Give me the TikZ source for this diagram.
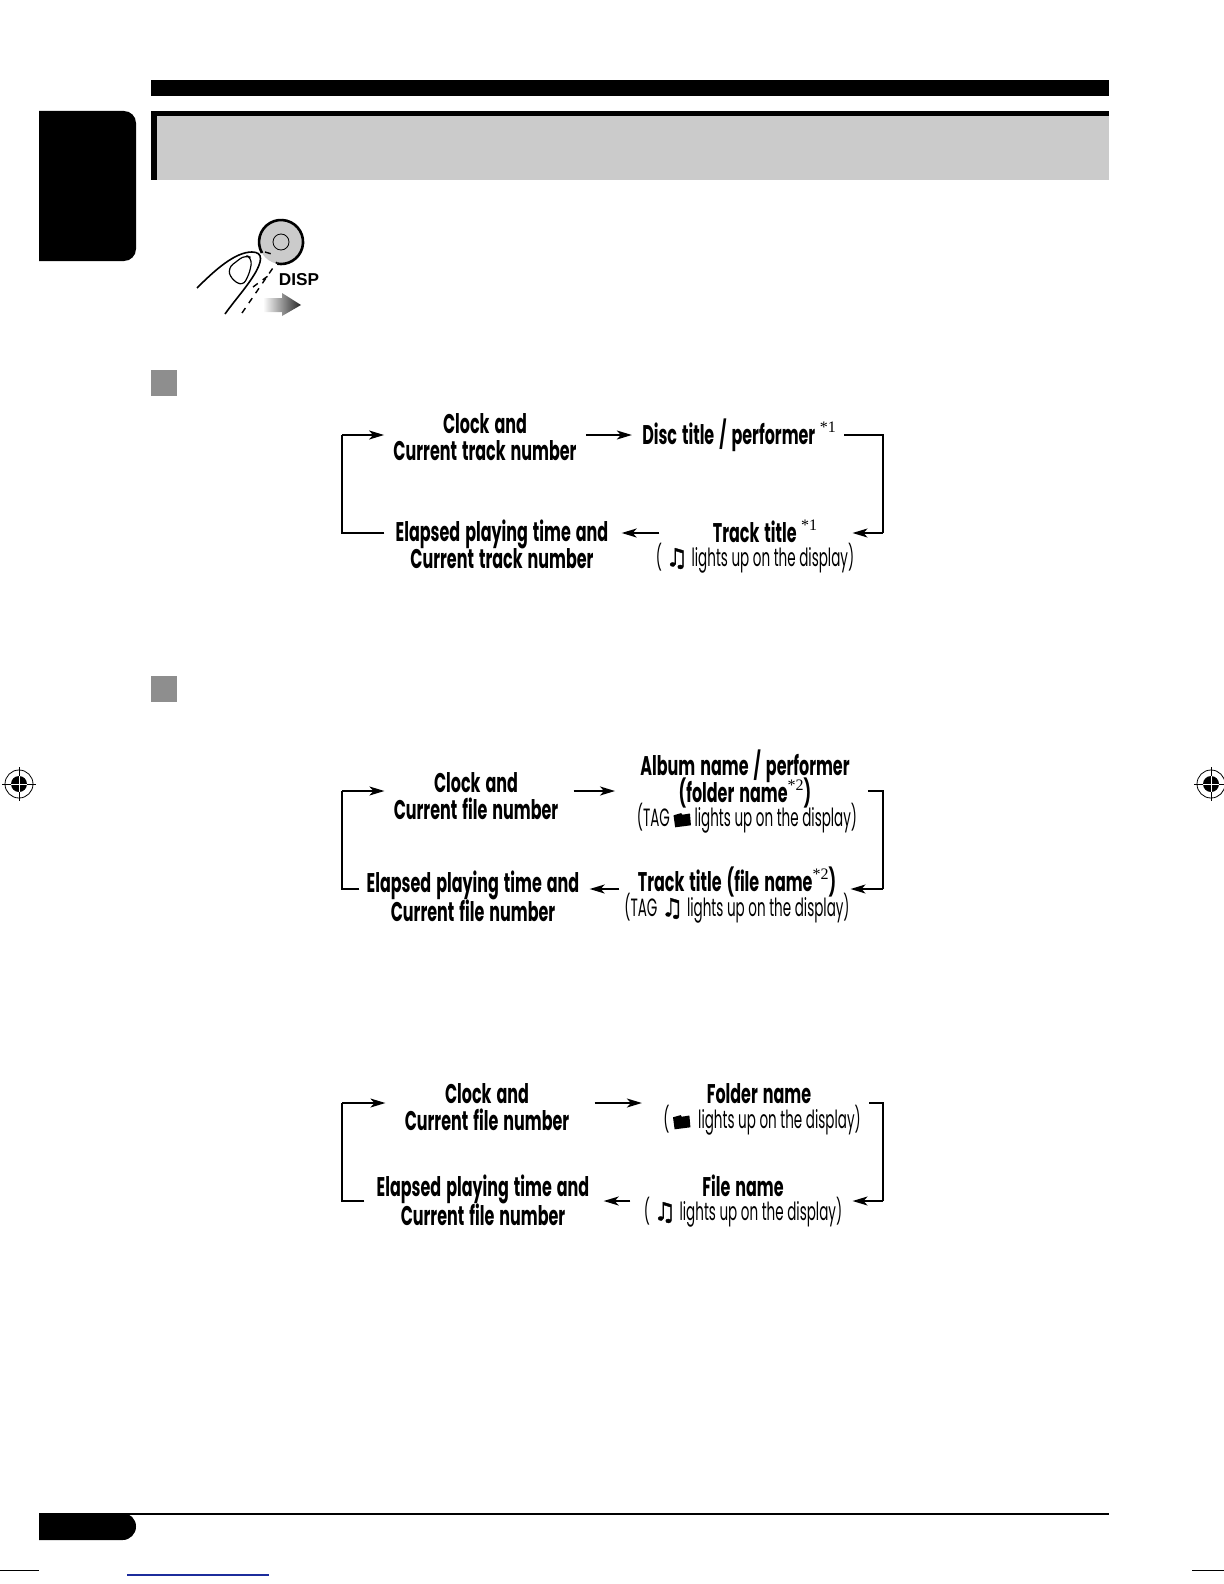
\documentclass[tikz,border=0pt]{standalone}
\usepackage{fontspec}
\usepackage{tikz}
\usetikzlibrary{arrows.meta}
\newfontfamily\labelfont[FakeStretch=0.59,WordSpace=1.5]{Poppins}
\newfontfamily\notelabelfont[FakeStretch=0.54]{Poppins}
\newfontfamily\notefont[FakeBold=1.5]{DejaVu Sans}
\newfontfamily\starfont{Liberation Serif}
\newfontfamily\dispfont{Liberation Sans}
\newcommand{\musicnote}{{\notefont\symbol{"266B}}}
\newcommand{\foldermark}{\tikz[baseline=0pt,x=1pt,y=1pt]{\fill (0,-0.5) -- (-0.8,5.5) -- (3,6.6) -- (3.6,5.8) -- (7.4,6.4) -- (7.9,0.5) -- cycle;}}
\newcommand{\starmark}[1]{\smash{\raisebox{0.45em}{\starfont\mdseries\fontsize{8}{8}\selectfont *#1}}}
\newcommand{\tightlines}{\setlength{\lineskiplimit}{-20pt}}
\definecolor{panelgray}{HTML}{CBCBCB}
\definecolor{squaregray}{HTML}{8E8E8E}
\definecolor{cropblue}{HTML}{1C2C9C}
\tikzset{
  titletext/.style={inner sep=0pt, align=center, font=\labelfont\bfseries\fontsize{13.5}{13.5}\selectfont, execute at begin node=\tightlines},
  notetext/.style={inner sep=0pt, align=center, font=\notelabelfont\fontsize{12.5}{13}\selectfont},
  flow/.style={line width=0.8pt, -{Stealth[length=7.5pt,width=4.5pt,inset=2pt]}},
  loopline/.style={line width=0.7pt},
  squaremark/.style={fill=squaregray},
}
\begin{document}
\begin{tikzpicture}[x=0.5pt,y=-0.5pt]
\useasboundingbox (0,0) rectangle (1224,1584);
% page furniture
\fill (151,80) rectangle (1109,96);
\fill[panelgray] (151,111) rectangle (1109,180);
\fill (151,111) rectangle (1109,116);
\fill (151,111) rectangle (157,180);
\fill (39,111) [rounded corners=6pt] -- (136,111) -- (136,261) [sharp corners] -- (39,261) -- cycle;
\fill[squaremark] (151,370) rectangle (177,396);
\fill[squaremark] (151,676) rectangle (177,702);
\fill (39,1513) [rounded corners=6.7pt] -- (136,1513) -- (136,1540) [sharp corners] -- (39,1540) -- cycle;
\draw[line width=1pt] (122,1514) -- (1109,1514);
\draw[line width=0.4pt] (0,1570) -- (39,1570);
\draw[line width=0.6pt, cropblue] (127,1575) -- (269,1575);
\draw[line width=0.4pt] (1192,1570) -- (1224,1570);
% registration marks
\foreach \cx in {19,1211} {
  \draw[line width=0.4pt] (\cx,784) circle[radius=14];
  \fill (\cx,784) circle[radius=8];
  \draw[line width=0.4pt] (\cx-17,784) -- (\cx+17,784);
  \draw[line width=0.4pt] (\cx,767) -- (\cx,801);
  \draw[line width=0.4pt, white] (\cx-8,784) -- (\cx+8,784);
  \draw[line width=0.4pt, white] (\cx,776) -- (\cx,792);
}
% DISP button
\fill[panelgray] (281,242) circle[radius=22];
\draw[line width=1.3pt] (262,253) arc[start angle=150,end angle=460,radius=22];
\draw[line width=0.4pt] (281,242) circle[radius=8];
\draw[line width=0.8pt] (197,288) .. controls (215,270) and (235,252) .. (252,252) .. controls (264,252) and (262,262) .. (254,275) .. controls (246,288) and (235,300) .. (225,314);
\draw[line width=0.6pt, rounded corners=3pt] (228,268) -- (245,255) -- (252,258) -- (250,272) -- (243,286) -- (231,279) -- cycle;
\draw[line width=0.7pt, dashed] (242,313) -- (277,262);
\draw[line width=0.7pt, dashed] (253,287) -- (272,273);
\draw[line width=0.7pt, dashed] (265,252) -- (275,255);
\node[inner sep=0pt, font=\dispfont\bfseries\fontsize{8.6}{8.6}\selectfont] (dispA) at (299,280) {DISP};
\shade[left color=white, right color=black!85] (263,298) -- (282,298) -- (282,293) -- (301,305) -- (282,316) -- (282,312) -- (263,312) -- cycle;
% CD diagram
\node[titletext] (clockA) at (485,437) {Clock and\\Current track number};
\node[titletext] (discA) at (739,435) {Disc title / performer\,\starmark{1}};
\node[titletext] (trackA) at (765,532) {Track title\,\starmark{1}};
\node[notetext] (trackNoteA) at (755,558) {( \musicnote\ lights up on the display)};
\node[titletext] (elapsedA) at (502,544) {Elapsed playing time and\\Current track number};
\coordinate (rightTopA) at (883,435);
\coordinate (rightBotA) at (883,533);
\coordinate (leftBotA) at (342,533);
\coordinate (leftTopA) at (342,435);
\draw[flow, shorten <=4.5pt, shorten >=5pt] (clockA.east |- discA.west) -- (discA.west);
\draw[loopline, shorten <=4pt] (discA.east) -- (rightTopA) -- (rightBotA);
\draw[flow, shorten >=17.5pt] (rightBotA) -- (trackA.east |- rightBotA);
\draw[flow, shorten <=26.5pt, shorten >=6.5pt] (trackA.west |- rightBotA) -- (elapsedA.east |- rightBotA);
\draw[loopline, shorten <=5.5pt] (elapsedA.west |- leftBotA) -- (leftBotA) -- (leftTopA);
\draw[flow, shorten >=4.5pt] (leftTopA) -- (clockA.west |- leftTopA);
% MP3 diagram, tag
\node[titletext] (clockB) at (476,796) {Clock and\\Current file number};
\node[titletext] (albumB) at (745,779) {Album name / performer\\(folder name\starmark{2})};
\node[notetext] (albumNoteB) at (747,818) {(TAG \foldermark\ lights up on the display)};
\node[titletext] (trackB) at (737,882) {Track title (file name\starmark{2})};
\node[notetext] (trackNoteB) at (737,908) {(TAG \musicnote\ lights up on the display)};
\node[titletext] (elapsedB) at (473,896) {Elapsed playing time and\\[0.8pt]Current file number};
\coordinate (rightTopB) at (883,791);
\coordinate (rightBotB) at (883,889);
\coordinate (leftBotB) at (342,889);
\coordinate (leftTopB) at (342,791);
\draw[flow, shorten <=7.5pt, shorten >=12.5pt] (clockB.east |- leftTopB) -- (albumB.west |- leftTopB);
\draw[loopline, shorten <=9pt] (albumB.east |- rightTopB) -- (rightTopB) -- (rightBotB);
\draw[flow, shorten >=7pt] (rightBotB) -- (trackB.east |- rightBotB);
\draw[flow, shorten <=9pt, shorten >=5pt] (trackB.west |- rightBotB) -- (elapsedB.east |- rightBotB);
\draw[loopline, shorten <=3.5pt] (elapsedB.west |- leftBotB) -- (leftBotB) -- (leftTopB);
\draw[flow, shorten >=4.5pt] (leftTopB) -- (clockB.west |- leftTopB);
% MP3 diagram, folder
\node[titletext] (clockC) at (487,1107) {Clock and\\Current file number};
\node[titletext] (folderC) at (759,1094) {Folder name};
\node[notetext] (folderNoteC) at (762,1120) {( \foldermark\,\ lights up on the display)};
\node[titletext] (fileC) at (743,1186) {File name};
\node[notetext] (fileNoteC) at (743,1212) {( \musicnote\ lights up on the display)};
\node[titletext] (elapsedC) at (483,1200) {Elapsed playing time and\\[1pt]Current file number};
\coordinate (rightTopC) at (883,1103);
\coordinate (rightBotC) at (883,1201);
\coordinate (leftBotC) at (342,1201);
\coordinate (leftTopC) at (342,1103);
\draw[flow, shorten <=12.5pt, shorten >=10.5pt] (clockC.east |- leftTopC) -- (folderNoteC.west |- leftTopC);
\draw[loopline, shorten <=4pt] (folderNoteC.east |- rightTopC) -- (rightTopC) -- (rightBotC);
\draw[flow, shorten >=5pt] (rightBotC) -- (fileNoteC.east |- rightBotC);
\draw[flow, shorten <=6.5pt, shorten >=7pt] (fileNoteC.west |- rightBotC) -- (elapsedC.east |- rightBotC);
\draw[loopline, shorten <=6pt] (elapsedC.west |- leftBotC) -- (leftBotC) -- (leftTopC);
\draw[flow, shorten >=9.5pt] (leftTopC) -- (clockC.west |- leftTopC);
\end{tikzpicture}
\end{document}
